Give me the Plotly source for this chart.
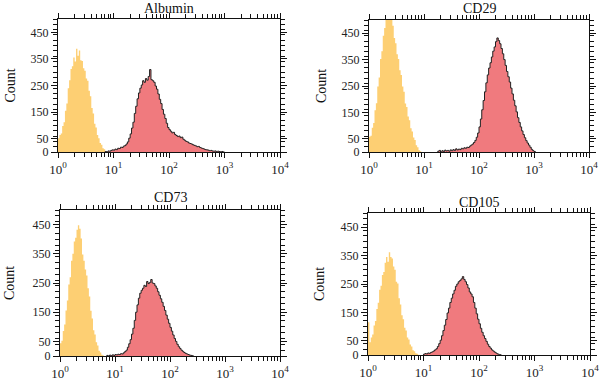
import numpy as np
import plotly.graph_objects as go

BIN_W = 0.025  # histogram bin width in decades

panel_titles = ["Albumin", "CD29", "CD73", "CD105"]
x_tick_vals = [1, 10, 100, 1000, 10000]
x_tick_text = ["10<sup>0</sup>", "10<sup>1</sup>", "10<sup>2</sup>", "10<sup>3</sup>", "10<sup>4</sup>"]
y_tick_vals = [0, 50, 150, 250, 350, 450]

# control (yellow) histograms: start (log10) and counts per bin
albumin_ctrl_start = 0.0
albumin_ctrl = [52, 64, 70, 98, 112, 155, 182, 240, 270, 312, 322, 355, 340, 388, 362, 382, 345,
                342, 315, 305, 276, 268, 230, 210, 165, 145, 106, 92, 64, 52, 34, 27, 14, 10, 4]
cd29_ctrl_start = 0.0
cd29_ctrl = [58, 62, 92, 110, 158, 185, 248, 282, 352, 382, 440, 470, 512, 540, 520, 545, 500,
             478, 432, 412, 370, 352, 310, 292, 248, 228, 184, 170, 134, 120, 90, 78, 55, 45, 26, 18, 7, 3]
cd73_ctrl_start = 0.0
cd73_ctrl = [44, 52, 86, 108, 156, 190, 245, 270, 326, 350, 392, 405, 432, 448, 436, 402, 348,
             326, 296, 276, 232, 204, 155, 128, 88, 74, 47, 36, 18, 12, 4, 2]
cd105_ctrl_start = 0.0
cd105_ctrl = [115, 45, 62, 72, 104, 120, 162, 184, 230, 244, 282, 292, 325, 345, 328, 362, 345,
              340, 312, 300, 258, 252, 200, 178, 140, 126, 96, 86, 62, 55, 37, 30, 17, 13, 6, 4, 1]

# stained (red) histograms
albumin_stain_start = 0.85
albumin_stain = [2, 0, 4, 3, 6, 8, 7, 11, 9, 14, 13, 18, 17, 22, 24, 30, 38, 52, 68, 90, 112, 145,
                 172, 200, 222, 240, 252, 268, 262, 276, 270, 284, 310, 272, 268, 262, 248, 236, 218,
                 198, 182, 160, 142, 126, 108, 92, 84, 78, 72, 74, 66, 62, 58, 60, 54, 56, 48, 44, 40,
                 38, 34, 32, 30, 27, 25, 23, 20, 21, 17, 15, 13, 11, 9, 8, 7, 5, 6, 4, 3, 4, 2, 3, 2, 1, 2, 0]
cd29_stain_start = 1.25
cd29_stain = [3, 6, 0, 5, 2, 7, 4, 6, 3, 8, 5, 9, 6, 12, 8, 11, 9, 14, 12, 16, 14, 18, 17, 22, 26,
              30, 36, 44, 56, 72, 95, 125, 160, 195, 228, 262, 292, 318, 338, 360, 382, 398, 418, 432,
              422, 410, 392, 372, 350, 328, 305, 285, 265, 242, 220, 196, 175, 152, 130, 112, 95, 80,
              66, 54, 43, 34, 26, 18, 10, 5, 2]
cd73_stain_start = 0.85
cd73_stain = [2, 0, 3, 1, 4, 2, 5, 4, 6, 5, 8, 7, 11, 15, 20, 30, 42, 56, 75, 95, 122, 150, 175, 198,
              215, 225, 232, 242, 238, 255, 248, 252, 262, 250, 248, 240, 232, 220, 208, 196, 184, 170,
              156, 140, 126, 112, 98, 85, 72, 60, 50, 40, 32, 26, 20, 16, 12, 9, 7, 5, 3, 2, 1]
cd105_stain_start = 1.0
cd105_stain = [3, 5, 4, 7, 6, 9, 11, 14, 18, 22, 30, 40, 52, 68, 86, 105, 125, 148, 165, 185, 200,
               215, 228, 242, 250, 258, 262, 268, 276, 266, 258, 248, 236, 222, 215, 205, 185, 165,
               145, 126, 110, 94, 80, 68, 58, 48, 38, 30, 24, 18, 14, 10, 7, 4, 2, 1]

CTRL_COLOR = "rgb(253,207,115)"
STAIN_COLOR = "rgb(240,122,126)"
FONT = "Liberation Serif"

panels = [
    (albumin_ctrl_start, albumin_ctrl, albumin_stain_start, albumin_stain),
    (cd29_ctrl_start, cd29_ctrl, cd29_stain_start, cd29_stain),
    (cd73_ctrl_start, cd73_ctrl, cd73_stain_start, cd73_stain),
    (cd105_ctrl_start, cd105_ctrl, cd105_stain_start, cd105_stain),
]

W, H = 600, 380
# pixel boxes in window coordinates: left, right, top, bottom
boxes = [(58, 280, 19, 152), (369, 589, 20, 152), (60, 280, 210, 356), (368, 590, 213, 355)]
title_y = [9, 9, 198, 202]
count_x = [10, 321, 9, 319]


def px(x):
    return x / W


def py(y):
    return 1 - y / H


def step_xy(start, counts):
    edges = 10 ** (start + BIN_W * np.arange(len(counts) + 1))
    xs = np.concatenate([[edges[0]], edges])
    ys = [0] + list(counts) + [0]
    return xs, ys


fig = go.Figure()
minor_vals = [m * 10 ** d for d in range(4) for m in range(2, 10)]

for i, (cs, cv, ss, sv) in enumerate(panels):
    n = "" if i == 0 else str(i + 1)
    xs, ys = step_xy(cs, cv)
    fig.add_trace(go.Scatter(x=xs, y=ys, mode="lines", line=dict(width=0, shape="hv"),
                             fill="tozeroy", fillcolor=CTRL_COLOR, xaxis="x" + n, yaxis="y" + n,
                             showlegend=False, hoverinfo="skip"))
    xs, ys = step_xy(ss, sv)
    fig.add_trace(go.Scatter(x=xs, y=ys, mode="lines", line=dict(width=1, shape="hv", color="#222"),
                             fill="tozeroy", fillcolor=STAIN_COLOR, xaxis="x" + n, yaxis="y" + n,
                             showlegend=False, hoverinfo="skip"))
    l, r, t, b = boxes[i]
    xd = [px(l), px(r)]
    yd = [py(b), py(t)]
    fig.layout["xaxis" + n] = dict(
        domain=xd, type="log", range=[0, 4], anchor="y" + n, automargin=False,
        tickvals=x_tick_vals, ticktext=x_tick_text, ticks="outside", ticklen=5,
        tickcolor="#111", showline=True, linecolor="#111", linewidth=1, mirror="ticks",
        showgrid=False, zeroline=False,
        minor=dict(tickvals=minor_vals, ticks="outside", ticklen=4, tickcolor="#111"),
        tickfont=dict(family=FONT, size=13, color="#222"))
    fig.layout["yaxis" + n] = dict(
        domain=yd, range=[0, 500], anchor="x" + n, automargin=False,
        tickvals=y_tick_vals, ticks="outside", ticklen=6, tickcolor="#111",
        showline=True, linecolor="#111", linewidth=1, mirror="ticks",
        showgrid=False, zeroline=False,
        minor=dict(dtick=20, ticks="outside", ticklen=4, tickcolor="#111"),
        tickfont=dict(family=FONT, size=12, color="#222"))
    fig.add_annotation(x=px((l + r) / 2), y=py(title_y[i]), xref="paper", yref="paper",
                       xanchor="center", yanchor="middle",
                       text=panel_titles[i], showarrow=False,
                       font=dict(family=FONT, size=14, color="#111"))
    fig.add_annotation(x=px(count_x[i]), y=py((t + b) / 2), xref="paper", yref="paper",
                       xanchor="center", yanchor="middle",
                       text="Count", textangle=-90, showarrow=False,
                       font=dict(family=FONT, size=14, color="#111"))

fig.update_layout(template="none", width=W, height=H, margin=dict(l=0, r=0, t=0, b=0),
                  paper_bgcolor="white", plot_bgcolor="white")
fig.write_html("out.html", config={"displayModeBar": False},
               post_script="document.body.style.margin='0';")
